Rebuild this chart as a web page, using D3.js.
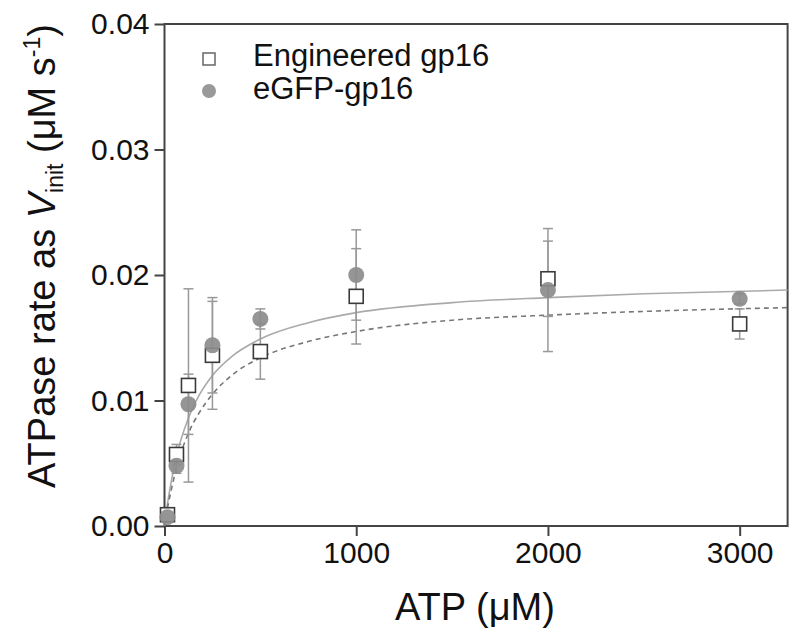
<!DOCTYPE html>
<html>
<head>
<meta charset="utf-8">
<script src="https://cdn.jsdelivr.net/npm/d3@7"></script>
<style>
  html, body { margin: 0; padding: 0; background: #fff; }
  svg { display: block; font-family: "Liberation Sans", Arial, sans-serif; }
</style>
</head>
<body>
<svg id="chart" width="800" height="644"></svg>
<script>
// ---- data ----
const atp = [15.6, 62.5, 125, 250, 500, 1000, 2000, 3000];
const engineered    = [0.0009, 0.0057, 0.0112, 0.0136, 0.0139, 0.0183, 0.0197, 0.0161];
const engineeredErr = [0.0003, 0.0008, 0.0077, 0.0043, 0.0022, 0.0038, 0.0030, 0.0012];
const egfp          = [0.0007, 0.0048, 0.0097, 0.0144, 0.0165, 0.0200, 0.0188, 0.0181];
const egfpErr       = [0.0003, 0.0006, 0.0024, 0.0038, 0.0008, 0.0036, 0.0049, 0.0004];

// fitted curves
const fitX        = [0, 15, 30, 60, 125, 180, 250, 350, 500, 750, 1000, 1500, 2000, 2500, 3250];
const fitSolid    = [0, 0.0017, 0.0031, 0.0054, 0.0086, 0.0104, 0.0120, 0.0135, 0.0149, 0.0162, 0.0170, 0.0178, 0.0182, 0.0185, 0.0188];
const fitDashed   = [0, 0.0014, 0.0025, 0.0045, 0.0074, 0.0090, 0.0105, 0.0120, 0.0134, 0.0147, 0.0155, 0.0164, 0.0168, 0.0171, 0.0174];

const xTicks = [0, 1000, 2000, 3000];
const yTicks = [0, 0.01, 0.02, 0.03, 0.04];
const seriesNames = ["Engineered gp16", "eGFP-gp16"];

// ---- layout ----
const svg = d3.select("#chart");
const L = 164.5, R = 787.6, T = 24, B = 526;
const x = d3.scaleLinear().domain([0, 3250]).range([L, R]);
const y = d3.scaleLinear().domain([0, 0.04]).range([B, T]);

const axisColor = "#444";
const fontSize = 30;

// axes
const yAxis = svg.append("g").attr("transform", `translate(${L},0)`)
  .call(d3.axisLeft(y).tickValues(yTicks).tickSize(10).tickPadding(5).tickFormat(d3.format(".2f")));
const xAxis = svg.append("g").attr("transform", `translate(0,${B})`)
  .call(d3.axisBottom(x).tickValues(xTicks).tickSize(10).tickPadding(6).tickFormat(d3.format("d")));
[yAxis, xAxis].forEach(g => {
  g.select(".domain").remove();
  g.selectAll(".tick line").attr("stroke", axisColor).attr("stroke-width", 2);
  g.selectAll(".tick text").attr("fill", "#111").style("font-size", fontSize + "px")
    .style("font-family", '"Liberation Sans", Arial, sans-serif');
});

// frame
svg.append("rect").attr("x", L).attr("y", T).attr("width", R - L).attr("height", B - T)
  .attr("fill", "none").attr("stroke", axisColor).attr("stroke-width", 2);

// fitted curves
const line = d3.line().x(d => x(d[0])).y(d => y(d[1])).curve(d3.curveMonotoneX);
svg.append("path").datum(fitX.map((v, i) => [v, fitSolid[i]]))
  .attr("d", line).attr("fill", "none").attr("stroke", "#aaa").attr("stroke-width", 1.6);
svg.append("path").datum(fitX.map((v, i) => [v, fitDashed[i]]))
  .attr("d", line).attr("fill", "none").attr("stroke", "#777").attr("stroke-width", 1.6)
  .attr("stroke-dasharray", "5,4");

// error bars
function errorBars(vals, errs) {
  const g = svg.append("g").attr("stroke", "#999").attr("stroke-width", 1.5);
  atp.forEach((a, i) => {
    const cx = x(a), y1 = y(vals[i] + errs[i]), y2 = y(vals[i] - errs[i]);
    g.append("line").attr("x1", cx).attr("x2", cx).attr("y1", y1).attr("y2", y2);
    g.append("line").attr("x1", cx - 5).attr("x2", cx + 5).attr("y1", y1).attr("y2", y1);
    g.append("line").attr("x1", cx - 5).attr("x2", cx + 5).attr("y1", y2).attr("y2", y2);
  });
}
errorBars(engineered, engineeredErr);
errorBars(egfp, egfpErr);

// squares
const sq = 14;
svg.append("g").selectAll("rect").data(atp).join("rect")
  .attr("x", (d) => x(d) - sq / 2).attr("y", (d, i) => y(engineered[i]) - sq / 2)
  .attr("width", sq).attr("height", sq)
  .attr("fill", "#fff").attr("stroke", "#3a3a3a").attr("stroke-width", 1.6);

// circles
svg.append("g").selectAll("circle").data(atp).join("circle")
  .attr("cx", d => x(d)).attr("cy", (d, i) => y(egfp[i])).attr("r", 8)
  .attr("fill", "#8c8c8c").attr("fill-opacity", 0.92);

// legend
const lg = svg.append("g");
lg.append("rect").attr("x", 203).attr("y", 53).attr("width", 12).attr("height", 12)
  .attr("fill", "#fff").attr("stroke", "#666").attr("stroke-width", 1.5);
lg.append("circle").attr("cx", 209).attr("cy", 91).attr("r", 7).attr("fill", "#999");
lg.append("text").attr("x", 253).attr("y", 66).text(seriesNames[0])
  .style("font-size", "31px").attr("fill", "#111");
lg.append("text").attr("x", 253).attr("y", 99).text(seriesNames[1])
  .style("font-size", "31px").attr("fill", "#111");

// axis titles
const titleSize = 38;
svg.append("text").attr("x", 475).attr("y", 620).attr("text-anchor", "middle")
  .style("font-size", titleSize + "px").attr("fill", "#111").text("ATP (\u03BCM)");

const yt = svg.append("text").attr("transform", "translate(55,256) rotate(-90)")
  .attr("text-anchor", "middle").style("font-size", titleSize + "px").attr("fill", "#111");
yt.append("tspan").text("ATPase rate as ");
yt.append("tspan").style("font-style", "italic").text("V");
yt.append("tspan").attr("dy", 8).style("font-size", "23px").text("init");
yt.append("tspan").attr("dy", -8).text(" (\u03BCM s");
yt.append("tspan").attr("dy", -15).style("font-size", "23px").text("-1");
yt.append("tspan").attr("dy", 15).text(")");
</script>
</body>
</html>
